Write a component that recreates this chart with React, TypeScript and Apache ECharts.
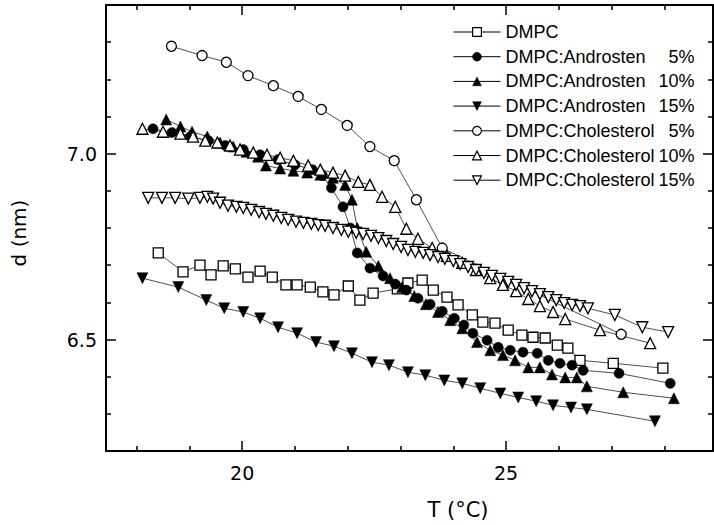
import React, { useEffect, useRef } from 'react';
import * as echarts from 'echarts';

const X_MIN = 17.42;
const X_MAX = 28.92;
const Y_MIN = 6.2;
const Y_MAX = 7.4;
const X_MAJOR = [20, 25];
const X_MINOR = [18, 19, 21, 22, 23, 24, 26, 27, 28];
const Y_MAJOR = [6.5, 7.0];
const Y_MINOR = [6.3, 6.4, 6.6, 6.7, 6.8, 6.9, 7.1, 7.2, 7.3];

const NAMES = [
  'DMPC',
  'DMPC:Androsten 5%',
  'DMPC:Androsten 10%',
  'DMPC:Androsten 15%',
  'DMPC:Cholesterol 5%',
  'DMPC:Cholesterol 10%',
  'DMPC:Cholesterol 15%',
];

const T_DMPC = [18.41, 18.88, 19.2, 19.41, 19.64, 19.87, 20.11, 20.34, 20.57, 20.83, 21.04, 21.29, 21.53, 21.74, 22.01, 22.23, 22.48, 22.94, 23.14, 23.41, 23.62, 23.88, 24.09, 24.36, 24.56, 24.79, 25.04, 25.3, 25.51, 25.74, 25.97, 26.17, 26.4, 27.03, 27.97];
const D_DMPC = [6.733, 6.682, 6.7, 6.674, 6.698, 6.69, 6.668, 6.684, 6.668, 6.647, 6.647, 6.641, 6.628, 6.62, 6.644, 6.606, 6.625, 6.636, 6.652, 6.66, 6.633, 6.614, 6.593, 6.566, 6.547, 6.544, 6.525, 6.512, 6.506, 6.504, 6.485, 6.477, 6.444, 6.436, 6.423];

const T_A5 = [18.31, 18.67, 19.02, 19.36, 19.68, 20.02, 20.34, 20.68, 21.0, 21.33, 21.52, 21.69, 21.91, 22.05, 22.18, 22.42, 22.67, 22.9, 23.11, 23.33, 23.56, 23.79, 24.02, 24.2, 24.37, 24.64, 24.85, 25.08, 25.32, 25.59, 25.8, 26.02, 26.25, 26.46, 27.14, 28.11];
const D_A5 = [7.067, 7.057, 7.046, 7.035, 7.022, 7.011, 6.997, 6.984, 6.97, 6.957, 6.941, 6.908, 6.857, 6.8, 6.733, 6.692, 6.671, 6.649, 6.633, 6.611, 6.595, 6.576, 6.557, 6.539, 6.517, 6.498, 6.479, 6.471, 6.466, 6.463, 6.444, 6.436, 6.431, 6.417, 6.409, 6.382];

const T_A10 = [18.56, 18.83, 19.05, 19.34, 19.58, 19.83, 20.08, 20.3, 20.45, 20.72, 20.97, 21.23, 21.48, 21.72, 21.95, 22.08, 22.18, 22.35, 22.58, 22.8, 23.03, 23.26, 23.48, 23.71, 23.94, 24.17, 24.45, 24.7, 24.94, 25.17, 25.42, 25.64, 25.87, 26.12, 26.34, 26.53, 27.22, 28.18];
const D_A10 = [7.092, 7.073, 7.059, 7.046, 7.03, 7.019, 7.005, 6.992, 6.968, 6.96, 6.954, 6.949, 6.943, 6.935, 6.916, 6.876, 6.8, 6.736, 6.698, 6.665, 6.641, 6.617, 6.595, 6.574, 6.552, 6.53, 6.493, 6.471, 6.458, 6.444, 6.425, 6.425, 6.406, 6.398, 6.398, 6.374, 6.358, 6.342];

const T_A15 = [18.11, 18.79, 19.32, 19.66, 20.02, 20.34, 20.68, 21.04, 21.4, 21.74, 22.08, 22.46, 22.78, 23.14, 23.47, 23.83, 24.17, 24.51, 24.89, 25.23, 25.57, 25.89, 26.23, 26.53, 27.82];
const D_A15 = [6.665, 6.641, 6.606, 6.584, 6.574, 6.557, 6.533, 6.517, 6.493, 6.482, 6.463, 6.439, 6.431, 6.412, 6.404, 6.39, 6.382, 6.369, 6.355, 6.344, 6.334, 6.323, 6.317, 6.312, 6.28];

const T_C5 = [18.66, 19.24, 19.7, 20.11, 20.59, 21.06, 21.5, 21.99, 22.42, 22.88, 23.3, 23.79, 27.18];
const D_C5 = [7.289, 7.264, 7.246, 7.21, 7.183, 7.154, 7.119, 7.076, 7.019, 6.981, 6.876, 6.746, 6.514];

const T_C10 = [18.11, 18.5, 18.83, 19.07, 19.3, 19.53, 19.77, 19.96, 20.21, 20.47, 20.72, 20.97, 21.25, 21.48, 21.72, 21.95, 22.2, 22.42, 22.65, 22.9, 23.11, 23.33, 23.6, 23.88, 24.17, 24.43, 24.7, 24.94, 25.19, 25.42, 25.64, 25.89, 26.12, 26.78, 27.73];
const D_C10 = [7.067, 7.059, 7.054, 7.046, 7.035, 7.03, 7.022, 7.011, 7.003, 6.997, 6.989, 6.981, 6.968, 6.957, 6.949, 6.941, 6.924, 6.916, 6.884, 6.857, 6.798, 6.771, 6.746, 6.725, 6.706, 6.687, 6.665, 6.647, 6.63, 6.609, 6.59, 6.574, 6.555, 6.525, 6.49];

const T_C15 = [18.22, 18.48, 18.73, 18.98, 19.2, 19.34, 19.45, 19.58, 19.73, 19.89, 20.02, 20.17, 20.32, 20.45, 20.59, 20.74, 20.87, 21.02, 21.16, 21.31, 21.44, 21.57, 21.72, 21.88, 22.01, 22.16, 22.29, 22.44, 22.58, 22.73, 22.86, 23.01, 23.14, 23.28, 23.43, 23.56, 23.71, 23.84, 24.0, 24.13, 24.28, 24.43, 24.58, 24.73, 24.89, 25.04, 25.19, 25.34, 25.49, 25.64, 25.8, 25.95, 26.1, 26.25, 26.4, 26.55, 27.06, 27.58, 28.07];
const D_C15 = [6.881, 6.881, 6.881, 6.879, 6.881, 6.884, 6.879, 6.868, 6.86, 6.857, 6.854, 6.849, 6.843, 6.838, 6.833, 6.827, 6.822, 6.817, 6.814, 6.811, 6.808, 6.806, 6.8, 6.795, 6.79, 6.787, 6.784, 6.779, 6.773, 6.765, 6.757, 6.749, 6.741, 6.736, 6.733, 6.727, 6.722, 6.717, 6.711, 6.703, 6.695, 6.687, 6.679, 6.671, 6.663, 6.655, 6.647, 6.638, 6.63, 6.622, 6.614, 6.606, 6.598, 6.593, 6.59, 6.584, 6.566, 6.533, 6.52];

const SERIES_T = [T_DMPC, T_A5, T_A10, T_A15, T_C5, T_C10, T_C15];
const SERIES_D = [D_DMPC, D_A5, D_A10, D_A15, D_C5, D_C10, D_C15];
const SYMBOLS = ['rect', 'circle', 'triangle', 'triangle', 'circle', 'triangle', 'triangle'];
const ROTATE = [0, 0, 0, 180, 0, 0, 180];
const FILLED = [false, true, true, true, false, false, false];
const SIZES = [10, 10, 11, 11, 10, 11, 11];

const FONT = 'Liberation Sans, Arial, sans-serif';
const TICK_FONT = 'DejaVu Sans, sans-serif';

export default function App() {
  const ref = useRef<HTMLDivElement>(null);
  useEffect(() => {
    if (!ref.current) return;
    const chart = echarts.init(ref.current, null, { renderer: 'svg' });
    const baseX = { type: 'value', min: X_MIN, max: X_MAX, splitLine: { show: false }, gridIndex: 0 };
    const baseY = { type: 'value', min: Y_MIN, max: Y_MAX, splitLine: { show: false }, gridIndex: 0 };
    const lineStyleAxis = { color: '#000', width: 2 };
    const tickStyle = { color: '#000', width: 1.5 };
    const series = NAMES.map((name, i) => ({
      name,
      type: 'line',
      xAxisIndex: 0,
      yAxisIndex: 0,
      data: SERIES_T[i].map((t, j) => [t, SERIES_D[i][j]]),
      symbol: SYMBOLS[i],
      symbolSize: SIZES[i],
      symbolRotate: ROTATE[i],
      showAllSymbol: true,
      lineStyle: { color: '#222', width: 0.8 },
      itemStyle: FILLED[i]
        ? { color: '#000', borderColor: '#000', borderWidth: 0.5 }
        : { color: '#fff', borderColor: '#000', borderWidth: 1.3 },
      emphasis: { disabled: true },
    }));
    const option = {
      animation: false,
      grid: { left: 106, right: 1, top: 5, bottom: 74, containLabel: false },
      xAxis: [
        {
          ...baseX,
          position: 'bottom',
          axisLine: { show: true, onZero: false, lineStyle: lineStyleAxis },
          axisTick: { show: true, inside: true, length: 10, customValues: X_MAJOR, lineStyle: tickStyle },
          axisLabel: { show: true, customValues: X_MAJOR, margin: 12, fontSize: 19, fontFamily: TICK_FONT, color: '#000', formatter: (v: number) => String(v) },
        },
        {
          ...baseX,
          position: 'bottom',
          axisLine: { show: false, onZero: false },
          axisTick: { show: true, inside: true, length: 5, customValues: X_MINOR, lineStyle: tickStyle },
          axisLabel: { show: false },
        },
        {
          ...baseX,
          position: 'top',
          axisLine: { show: true, onZero: false, lineStyle: lineStyleAxis },
          axisTick: { show: true, inside: true, length: 10, customValues: X_MAJOR, lineStyle: tickStyle },
          axisLabel: { show: false },
        },
        {
          ...baseX,
          position: 'top',
          axisLine: { show: false, onZero: false },
          axisTick: { show: true, inside: true, length: 5, customValues: X_MINOR, lineStyle: tickStyle },
          axisLabel: { show: false },
        },
      ],
      yAxis: [
        {
          ...baseY,
          position: 'left',
          axisLine: { show: true, onZero: false, lineStyle: lineStyleAxis },
          axisTick: { show: true, inside: true, length: 10, customValues: Y_MAJOR, lineStyle: tickStyle },
          axisLabel: { show: true, customValues: Y_MAJOR, margin: 9, fontSize: 19, fontFamily: TICK_FONT, color: '#000', formatter: (v: number) => v.toFixed(1) },
        },
        {
          ...baseY,
          position: 'left',
          axisLine: { show: false, onZero: false },
          axisTick: { show: true, inside: true, length: 5, customValues: Y_MINOR, lineStyle: tickStyle },
          axisLabel: { show: false },
        },
        {
          ...baseY,
          position: 'right',
          axisLine: { show: true, onZero: false, lineStyle: lineStyleAxis },
          axisTick: { show: true, inside: true, length: 10, customValues: Y_MAJOR, lineStyle: tickStyle },
          axisLabel: { show: false },
        },
        {
          ...baseY,
          position: 'right',
          axisLine: { show: false, onZero: false },
          axisTick: { show: true, inside: true, length: 5, customValues: Y_MINOR, lineStyle: tickStyle },
          axisLabel: { show: false },
        },
      ],
      legend: {
        orient: 'vertical',
        left: 453,
        top: 23,
        padding: 0,
        itemWidth: 47,
        itemHeight: 11,
        itemGap: 6.7,
        selectedMode: false,
        data: NAMES.map((name, i) => ({
          name,
          symbolRotate: ROTATE[i],
          itemStyle: FILLED[i]
            ? { color: '#000', borderColor: '#000', borderWidth: 0.5 }
            : { color: '#fff', borderColor: '#000', borderWidth: 1.2 },
          lineStyle: { color: '#000', width: 1 },
        })),
        textStyle: {
          fontSize: 18,
          fontFamily: FONT,
          color: '#000',
          rich: {
            a: { fontSize: 18, fontFamily: FONT, color: '#000', width: 152, lineHeight: 22 },
            b: { fontSize: 18, fontFamily: FONT, color: '#000', width: 37, align: 'right', lineHeight: 22 },
          },
        },
        formatter: (name: string) => {
          const parts = name.split(' ');
          if (parts.length < 2) return `{a|${name}}`;
          return `{a|${parts[0]}}{b|${parts[1]}}`;
        },
      },
      graphic: [
        {
          type: 'text',
          x: 458,
          y: 510,
          style: { text: 'T (°C)', fontSize: 21, fontFamily: TICK_FONT, fill: '#000', align: 'center', verticalAlign: 'middle' },
        },
        {
          type: 'text',
          x: 19,
          y: 233,
          rotation: Math.PI / 2,
          style: { text: 'd (nm)', fontSize: 20, fontFamily: TICK_FONT, fill: '#000', align: 'center', verticalAlign: 'middle' },
        },
      ],
      series,
    };
    chart.setOption(option as any);
    return () => chart.dispose();
  }, []);
  return (
    <div
      ref={ref}
      style={{ position: 'fixed', left: 0, top: 0, width: 714, height: 525, background: '#fff' }}
    />
  );
}
